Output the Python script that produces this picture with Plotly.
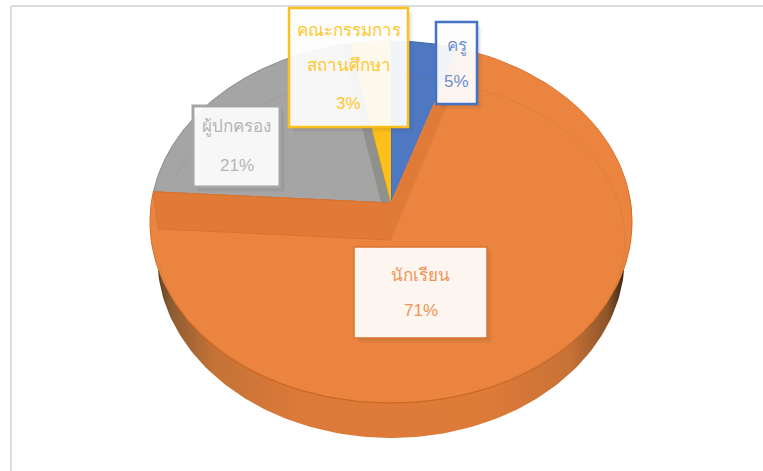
import numpy as np
import plotly.graph_objects as go

categories = ["ครู", "นักเรียน", "ผู้ปกครอง", "คณะกรรมการ<br>สถานศึกษา"]
shares = [5, 71, 21, 3]
slice_colors = ["#4E78C1", "#EA843F", "#A5A5A5", "#FDC01A"]
rim_colors = ["#3F65AC", "#D9742F", "#8C8C8C", "#E5AC10"]
label_colors = ["#6F8FD0", "#F09455", "#B5B5B5", "#FFC72C"]

# pixel geometry of the tilted pie (axes run 1:1 with the page)
CX, CY = 391, 203
A, B, K = 239.7, 179, 0.105
DEPTH = 35
DROP = 37

# label boxes: x0, y0, x1, y1, border width
boxes = [(436, 22, 477, 104, 2.5), (354, 247, 487, 338, 1.5),
         (193, 106, 280, 187, 3), (289, 8, 408, 127, 2.5)]
# y of each text line in the boxes
line_ys = [[46, 81], [275, 310], [127, 165], [30, 65, 103]]


def rim(deg, dy=0, sx=1.0):
    t = np.radians(deg)
    d = 1 + K * np.cos(t)
    return CX + sx * A * np.sin(t) / d, CY - B * np.cos(t) / d + dy


def poly(xs, ys, fill, line=None, width=1):
    return go.Scatter(x=xs, y=ys, mode="lines", fill="toself", fillcolor=fill,
                      line=dict(color=line or "rgba(0,0,0,0)", width=width),
                      hoverinfo="skip", showlegend=False)


edges = np.concatenate([[0], np.cumsum(shares)]) * 3.6
fig = go.Figure()

# side of the pie
t = np.linspace(86, 274, 160)
x1, y1 = rim(t)
x2, y2 = rim(t[::-1], DEPTH, 0.97)
fig.add_trace(go.Scatter(
    x=np.concatenate([x1, x2]), y=np.concatenate([y1, y2]), mode="lines",
    fill="toself", line=dict(color="rgba(0,0,0,0)", width=0), hoverinfo="skip", showlegend=False,
    fillgradient=dict(type="horizontal", start=157, stop=626, colorscale=[
        [0, "#5E3F24"], [0.03, "#8E5C32"], [0.12, "#C47236"], [0.3, "#DC7A39"],
        [0.7, "#DE7B39"], [0.88, "#C87236"], [0.96, "#8E552A"], [1, "#2E2012"]])))

# top slices
order = [2, 3, 0, 1]
for i in order:
    t = np.linspace(edges[i], edges[i + 1], 120)
    x, y = rim(t)
    fig.add_trace(poly(np.r_[CX, x, CX], np.r_[CY, y, CY], slice_colors[i], rim_colors[i]))

# darker sliver of the grey slice next to the yellow one
xr, yr = rim(edges[3])
xq, yq = rim(edges[3] - 2.5)
fig.add_trace(poly([CX, xr, xq, CX - 10], [CY, yr, yq, CY - 1], "rgba(120,120,110,0.45)"))
x, y = rim(np.linspace(edges[3], edges[4], 30))
fig.add_trace(poly(np.r_[CX, x, CX], np.r_[CY, y, CY], slice_colors[3]))

# cut faces of the orange slice
xl, yl = rim(edges[2])
fig.add_trace(poly([CX, xl, xl + 5, CX], [CY, yl, yl + DROP, CY + DROP], "#E07A36", "#D9742F"))
xa, ya = rim(edges[1])
xb, yb = rim(edges[1] + 2.5, 6)
fig.add_trace(poly([CX, xa, xb, CX], [CY, ya, yb, CY + DROP], "#DF7A38", "#E58040"))

# bevel ellipse on the top surface
t = np.linspace(0, 360, 300)
ex, ey = CX + 234 * np.sin(np.radians(t)), CY + DROP - 163 * np.cos(np.radians(t))
upper = (t < 112) | (t > 248)
keep = upper & ((t < 13) | (t > 22)) & ((t < 262) | (t > 292))
fig.add_trace(go.Scatter(x=np.where(keep, ex, np.nan), y=ey, mode="lines",
                         line=dict(color="rgba(120,80,50,0.11)", width=1), hoverinfo="skip", showlegend=False))
fig.add_trace(go.Scatter(x=ex[~upper], y=ey[~upper], mode="lines",
                         line=dict(color="#C9661F", width=1), hoverinfo="skip", showlegend=False))

# chart frame
shapes = [
    dict(type="line", x0=11, x1=11, y0=6, y1=471, line=dict(color="#DDDDDD", width=2)),
    dict(type="line", x0=11, x1=763, y0=6, y1=6, line=dict(color="#DDDDDD", width=2)),
]
annotations = []
for i, (x0, y0, x1, y1, w) in enumerate(boxes):
    for off, alpha in [(5, 0.05), (3, 0.08)]:
        shapes.append(dict(type="rect", x0=x0 + off, x1=x1 + off, y0=y0 + off, y1=y1 + off,
                           line=dict(width=0), fillcolor=f"rgba(60,60,60,{alpha})", layer="above"))
    shapes.append(dict(type="rect", x0=x0, x1=x1, y0=y0, y1=y1, layer="above",
                       fillcolor="rgba(255,255,255,0.92)",
                       line=dict(color=rim_colors[i] if i == 1 else slice_colors[i] if i != 0 else "#4472C4", width=w)))
    lines = categories[i].split("<br>") + [f"{shares[i]}%"]
    for text, y in zip(lines, line_ys[i]):
        annotations.append(dict(x=(x0 + x1) / 2, y=y, text=text, showarrow=False,
                                font=dict(size=17, color=label_colors[i],
                                          family="Liberation Sans, Noto Sans, DejaVu Sans, sans-serif")))

fig.update_layout(
    width=763, height=471, margin=dict(l=0, r=0, t=0, b=0),
    paper_bgcolor="white", plot_bgcolor="white", showlegend=False,
    xaxis=dict(range=[0, 763], visible=False, fixedrange=True),
    yaxis=dict(range=[471, 0], visible=False, fixedrange=True),
    shapes=shapes, annotations=annotations,
)
fig.write_html("out.html", config=dict(displayModeBar=False),
               post_script="document.body.style.margin='0';")
